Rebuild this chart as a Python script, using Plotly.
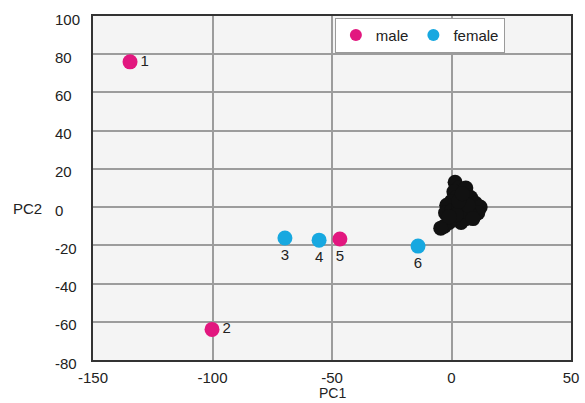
import plotly.graph_objects as go

# PCA scores: labelled samples by sex, plus the unlabelled reference cluster
male_pc1 = [-134.5, -100.2, -46.7]
male_pc2 = [76, -64, -16.7]
male_ids = ["1", "2", "5"]
male_textpos = ["middle right", "middle right", "bottom center"]

female_pc1 = [-69.7, -55.4, -14.0]
female_pc2 = [-16.2, -17.3, -20.4]
female_ids = ["3", "4", "6"]
female_textpos = ["bottom center", "bottom center", "bottom center"]

cluster_pc1 = [1.5, 3, 1, 6, 2, 0, -2, -2.5, 0, 3, 5, 8, 10, 12, 11, 8, 6, 4,
               1, -1, -3, -4.5, 5, 7, 2, 9, 3, 4.5, -1]
cluster_pc2 = [13, 10, 8, 10, 5, 3, 1, -3, -2, 0, 4, 5, 2, 0, -3, -4, -6, -8,
               -6, -8, -10, -11, -2, 1, -4, -6, 3, 7, -5]

x_ticks = [-150, -100, -50, 0, 50]
x_ticktext = ["-150", "-100", "-50", "0", "50"]
y_ticks = [100, 80, 60, 40, 20, 0, -20, -40, -60, -80]

MALE = "#e2177f"
FEMALE = "#17a8e0"
FONT = "Liberation Sans, Arial, sans-serif"
TXT = "#222222"

fig = go.Figure()

fig.add_trace(go.Scatter(
    x=cluster_pc1, y=cluster_pc2, mode="markers",
    marker=dict(color="#111111", size=15, line=dict(width=0)),
    showlegend=False, hoverinfo="skip",
))
fig.add_trace(go.Scatter(
    x=male_pc1, y=male_pc2, mode="markers+text", name="male",
    text=male_ids, textposition=male_textpos,
    textfont=dict(family=FONT, size=15, color=TXT),
    marker=dict(color=MALE, size=15, line=dict(width=0)),
))
fig.add_trace(go.Scatter(
    x=female_pc1, y=female_pc2, mode="markers+text", name="female",
    text=female_ids, textposition=female_textpos,
    textfont=dict(family=FONT, size=15, color=TXT),
    marker=dict(color=FEMALE, size=15, line=dict(width=0)),
))

# Left-aligned y tick labels
for v in y_ticks:
    fig.add_annotation(
        x=-0.084, xref="paper", y=v, yref="y", text=str(v),
        showarrow=False, xanchor="left", yanchor="middle", yshift=-3,
        font=dict(family=FONT, size=15, color=TXT),
    )

# Axis titles
fig.add_annotation(
    x=-0.103, xref="paper", y=0, yref="y", text="PC2",
    showarrow=False, xanchor="right", yanchor="middle", yshift=-1,
    font=dict(family=FONT, size=15, color=TXT),
)
fig.add_annotation(
    x=0.5, xref="paper", y=-0.097, yref="paper", text="PC1",
    showarrow=False, xanchor="center", yanchor="middle",
    font=dict(family=FONT, size=14, color=TXT),
)

fig.update_layout(
    width=585, height=403,
    margin=dict(l=93, r=14, t=16, b=43, autoexpand=False),
    paper_bgcolor="white",
    plot_bgcolor="#f4f4f4",
    font=dict(family=FONT, size=15, color=TXT),
    legend=dict(
        orientation="h", x=0.506, y=0.995, xanchor="left", yanchor="top",
        bgcolor="white", bordercolor="#9a9a9a", borderwidth=1,
        font=dict(family=FONT, size=15, color=TXT),
        itemsizing="constant", tracegroupgap=0,
    ),
    xaxis=dict(
        range=[-150, 50], tickvals=x_ticks, ticktext=x_ticktext, ticks="",
        showgrid=True, gridcolor="#9c9c9c", gridwidth=1.5, zeroline=False,
        showline=True, linecolor="#333333", linewidth=2, mirror=True,
        tickfont=dict(family=FONT, size=15, color=TXT),
        ticklabelstandoff=3, automargin=False,
    ),
    yaxis=dict(
        range=[-80, 100], tickvals=y_ticks, ticks="", showgrid=True,
        gridcolor="#9c9c9c", gridwidth=1.5, zeroline=False,
        showline=True, linecolor="#333333", linewidth=2, mirror=True,
        showticklabels=False, automargin=False,
    ),
)

fig.write_html("out.html")
